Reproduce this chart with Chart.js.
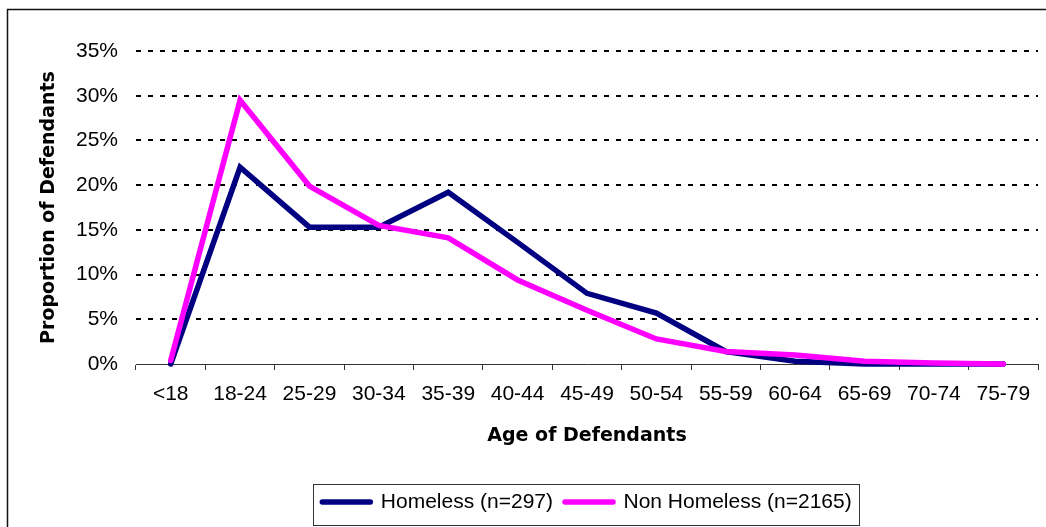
<!DOCTYPE html>
<html>
<head>
<meta charset="utf-8">
<title>Age of Defendants</title>
<script src="https://cdn.jsdelivr.net/npm/chart.js@4/dist/chart.umd.min.js"></script>
<style>
  html, body { margin: 0; padding: 0; background: #fff; }
  canvas { display: block; }
</style>
</head>
<body>
<canvas id="chart" width="1046" height="527"></canvas>
<script>
var ageGroups = ['<18', '18-24', '25-29', '30-34', '35-39', '40-44', '45-49', '50-54', '55-59', '60-64', '65-69', '70-74', '75-79'];
var homeless = [0, 22.0, 15.3, 15.3, 19.2, 13.6, 7.9, 5.7, 1.4, 0.3, 0, 0, 0];
var nonHomeless = [0.4, 29.5, 19.9, 15.5, 14.1, 9.4, 6.0, 2.8, 1.4, 1.0, 0.3, 0.1, 0];
var seriesNames = ['Homeless (n=297)', 'Non Homeless (n=2165)'];
var seriesColors = ['#000080', '#FF00FF'];
var yMax = 35;
var yStep = 5;

Chart.defaults.font.family = "'Liberation Sans', Arial, sans-serif";
Chart.defaults.font.size = 21;
Chart.defaults.color = '#000';

var titleFont = { family: "'DejaVu Sans', sans-serif", weight: 'bold', size: 19 };

// outer frame + box round the legend
var framePlugin = {
    id: 'frame',
    beforeDraw: function (chart) {
        var ctx = chart.ctx;
        ctx.save();
        ctx.fillStyle = '#fff';
        ctx.fillRect(0, 0, chart.width, chart.height);
        ctx.strokeStyle = '#111';
        ctx.lineWidth = 1.5;
        ctx.strokeRect(7.5, 9.5, chart.width + 20, chart.height + 20);
        ctx.restore();
    },
    afterDraw: function (chart) {
        var boxes = chart.legend && chart.legend.legendHitBoxes;
        if (!boxes || !boxes.length) return;
        var first = boxes[0], last = boxes[boxes.length - 1];
        var cy = first.top + first.height / 2;
        var x1 = Math.round(first.left - 9) + 0.5;
        var x2 = Math.round(last.left + last.width + 7) + 0.5;
        var y1 = Math.round(cy - 18) + 0.5;
        var ctx = chart.ctx;
        ctx.save();
        ctx.strokeStyle = '#333';
        ctx.lineWidth = 1;
        ctx.strokeRect(x1, y1, x2 - x1, 41);
        ctx.restore();
    }
};

function makeSeries(i, data, order) {
    return {
        label: seriesNames[i],
        data: data,
        borderColor: seriesColors[i],
        backgroundColor: seriesColors[i],
        borderWidth: 5.5,
        borderCapStyle: 'round',
        borderJoinStyle: 'miter',
        pointRadius: 0,
        pointHoverRadius: 0,
        pointStyle: 'line',
        pointBorderWidth: 5.5,
        pointBorderColor: seriesColors[i],
        tension: 0,
        fill: false,
        clip: false,
        order: order
    };
}

var ctx = document.getElementById('chart').getContext('2d');
var chart = new Chart(ctx, {
    type: 'line',
    data: {
        labels: ageGroups,
        datasets: [makeSeries(0, homeless, 1), makeSeries(1, nonHomeless, 0)]
    },
    plugins: [framePlugin],
    options: {
        responsive: false,
        animation: false,
        devicePixelRatio: 1,
        layout: { padding: { top: 51, right: 8, bottom: 4.5, left: 0 } },
        plugins: {
            tooltip: { enabled: false },
            legend: {
                position: 'bottom',
                fullSize: false,
                labels: {
                    usePointStyle: true,
                    pointStyle: 'line',
                    pointStyleWidth: 48,
                    padding: 12,
                    color: '#000',
                    font: { size: 21 },
                    generateLabels: function (chart) {
                        var items = Chart.defaults.plugins.legend.labels.generateLabels(chart);
                        items.sort(function (a, b) { return a.datasetIndex - b.datasetIndex; });
                        items.forEach(function (it) { it.lineCap = 'round'; it.lineWidth = 5.5; });
                        return items;
                    }
                }
            }
        },
        scales: {
            x: {
                offset: true,
                grid: {
                    offset: true,
                    drawOnChartArea: false,
                    drawTicks: true,
                    tickLength: 6,
                    color: '#333',
                    lineWidth: 1
                },
                border: { display: true, color: '#333', width: 1 },
                ticks: { autoSkip: false, maxRotation: 0, padding: 12, color: '#000', font: { size: 21 } },
                title: {
                    display: true,
                    text: 'Age of Defendants',
                    color: '#000',
                    font: titleFont,
                    padding: { top: 0, bottom: 32 }
                },
                afterFit: function (scale) { scale.height = 115.5; }
            },
            y: {
                min: 0,
                max: yMax,
                grid: {
                    drawTicks: false,
                    lineWidth: 2,
                    color: function (c) { return c.tick && c.tick.value === 0 ? 'rgba(0,0,0,0)' : '#000'; }
                },
                border: { display: false, dash: [5, 7] },
                ticks: {
                    stepSize: yStep,
                    padding: 18,
                    color: '#000',
                    font: { size: 21 },
                    callback: function (v) { return v + '%'; }
                },
                title: {
                    display: true,
                    text: 'Proportion of Defendants',
                    color: '#000',
                    font: titleFont,
                    padding: { top: 38, bottom: 0 }
                },
                afterFit: function (scale) { scale.width = 136; }
            }
        }
    }
});
</script>
</body>
</html>
